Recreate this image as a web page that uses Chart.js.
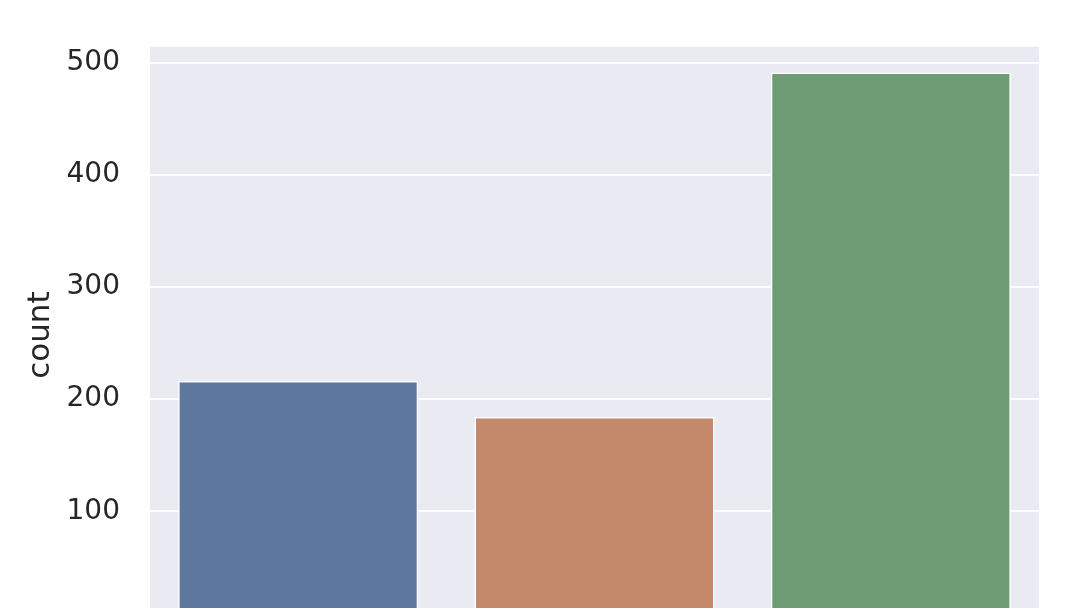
<!DOCTYPE html>
<html>
<head>
<meta charset="utf-8">
<script src="https://cdn.jsdelivr.net/npm/chart.js@4"></script>
<style>
  html, body { margin: 0; padding: 0; background: #fff; overflow: hidden; }
  .wrap { position: relative; width: 1074px; height: 680px; }
</style>
</head>
<body>
<div class="wrap"><canvas id="count__chart"></canvas></div>
<script>
const pclass = ["1", "2", "3"];
const counts = [216, 184, 491];
const barColors = ["#5e779f", "#c4886a", "#6d9b74"];
const yTicks = [0, 100, 200, 300, 400, 500];

// seaborn darkgrid face colour behind the plot
const plotBackground = {
  id: "plotBackground",
  beforeDraw(chart) {
    const { ctx, chartArea: a } = chart;
    ctx.save();
    ctx.fillStyle = "#eaeaf2";
    ctx.fillRect(a.left, a.top, a.right - a.left, a.bottom - a.top);
    ctx.restore();
  },
};

function init() {
  const data = {
    labels: pclass,
    datasets: [
      {
        label: "count",
        data: counts,
        backgroundColor: barColors,
        borderColor: "#ffffff",
        borderWidth: 1.5,
        categoryPercentage: 1,
        barPercentage: 0.81,
      },
    ],
  };

  const config = {
    type: "bar",
    data: data,
    plugins: [plotBackground],
    options: {
      responsive: true,
      maintainAspectRatio: false,
      animation: false,
      layout: {
        padding: { top: 46, right: 35, bottom: 56.6, left: 22 },
      },
      plugins: {
        legend: { display: false },
        tooltip: { enabled: false },
      },
      scales: {
        x: {
          display: false,
        },
        y: {
          min: 0,
          max: 514,
          afterFit(scale) {
            scale.width = 128;
          },
          afterBuildTicks(scale) {
            scale.ticks = yTicks.map((v) => ({ value: v }));
          },
          border: { display: false },
          grid: {
            color: "#ffffff",
            lineWidth: 2,
            drawTicks: false,
          },
          ticks: {
            padding: 30,
            color: "#262626",
            font: { family: "DejaVu Sans", size: 28 },
          },
          title: {
            display: true,
            text: "count",
            color: "#262626",
            padding: 0,
            font: { family: "DejaVu Sans", size: 31 },
          },
        },
      },
    },
  };

  new Chart(document.querySelector("#count__chart"), config);
}

init();
</script>
</body>
</html>
